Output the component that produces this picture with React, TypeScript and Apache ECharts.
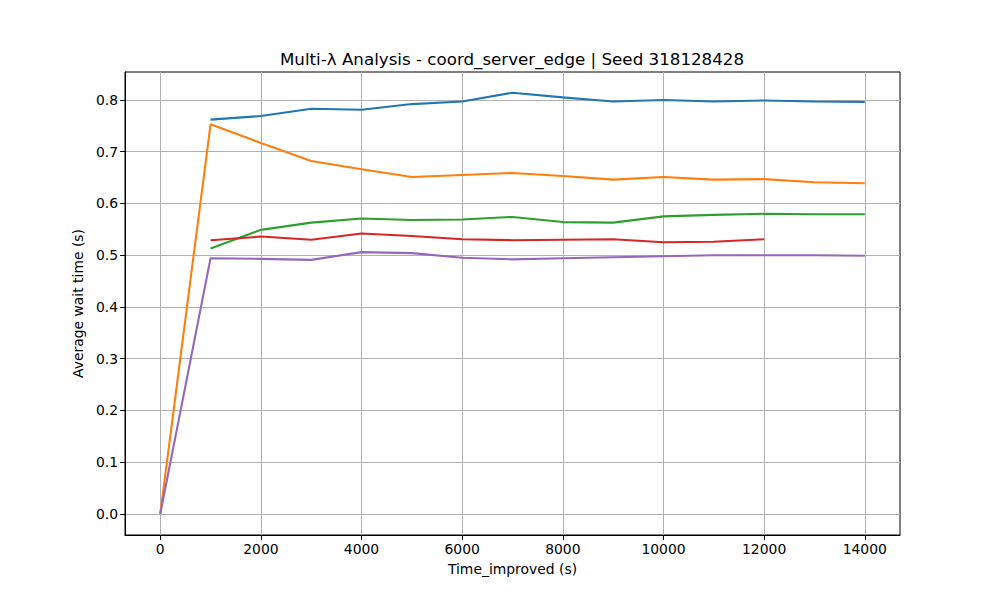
import React, { useEffect, useRef } from "react";
import * as echarts from "echarts";

const titleText = "Multi-λ Analysis - coord_server_edge | Seed 318128428";
const xTicks = [0, 2000, 4000, 6000, 8000, 10000, 12000, 14000];
const yTicks = [0, 0.1, 0.2, 0.3, 0.4, 0.5, 0.6, 0.7, 0.8];

const timesFull = [0, 1000, 2000, 3000, 4000, 5000, 6000, 7000, 8000, 9000, 10000, 11000, 12000, 13000, 14000];
const timesFrom1k = [1000, 2000, 3000, 4000, 5000, 6000, 7000, 8000, 9000, 10000, 11000, 12000, 13000, 14000];
const timesTo12k = [1000, 2000, 3000, 4000, 5000, 6000, 7000, 8000, 9000, 10000, 11000, 12000];

const blueVals = [0.762, 0.769, 0.783, 0.781, 0.792, 0.797, 0.814, 0.805, 0.797, 0.8, 0.797, 0.799, 0.797, 0.796];
const orangeVals = [0.0, 0.753, 0.717, 0.682, 0.666, 0.651, 0.655, 0.659, 0.653, 0.646, 0.651, 0.646, 0.647, 0.641, 0.639];
const greenVals = [0.513, 0.549, 0.563, 0.571, 0.568, 0.569, 0.574, 0.564, 0.563, 0.575, 0.578, 0.58, 0.579, 0.579];
const redVals = [0.529, 0.536, 0.53, 0.542, 0.537, 0.531, 0.529, 0.53, 0.531, 0.525, 0.526, 0.531];
const purpleVals = [0.0, 0.494, 0.493, 0.491, 0.506, 0.504, 0.495, 0.492, 0.494, 0.496, 0.498, 0.5, 0.5, 0.5, 0.499];

const colors = ["#1f77b4", "#ff7f0e", "#2ca02c", "#d62728", "#9467bd"];

const zip = (xs: number[], ys: number[]) => xs.map((x, i) => [x, ys[i]]);

export default function App() {
  const ref = useRef<HTMLDivElement>(null);
  useEffect(() => {
    if (!ref.current) return;
    const chart = echarts.init(ref.current, null, { renderer: "svg" });
    const font = "DejaVu Sans";
    const mk = (data: number[][], color: string) => ({
      type: "line",
      data,
      showSymbol: false,
      symbol: "none",
      lineStyle: { color, width: 2.08 },
      itemStyle: { color },
    });
    chart.setOption({
      animation: false,
      backgroundColor: "#fff",
      textStyle: { fontFamily: font },
      title: {
        text: titleText,
        left: 507,
        top: 45,
        textAlign: "center",
        textStyle: { fontFamily: font, fontSize: 16.7, fontWeight: "normal", color: "#000" },
      },
      grid: {
        left: 125,
        right: 100,
        top: 72,
        bottom: 65,
        show: true,
        borderColor: "#000",
        borderWidth: 1,
        backgroundColor: "transparent",
      },
      xAxis: {
        type: "value",
        min: -700,
        max: 14700,
        name: "Time_improved (s)",
        nameLocation: "middle",
        nameGap: 27,
        nameTextStyle: { fontFamily: font, fontSize: 13.9, color: "#000" },
        axisLine: { show: true, onZero: false, lineStyle: { color: "#000", width: 1 } },
        axisTick: { show: true, inside: false, length: 4.9, customValues: xTicks, lineStyle: { color: "#000", width: 1 } },
        axisLabel: {
          show: true,
          margin: 7,
          customValues: xTicks,
          fontFamily: font,
          fontSize: 13.9,
          color: "#000",
          formatter: (v: number) => String(v),
        },
        splitLine: { show: true, lineStyle: { color: "#b0b0b0", width: 1 } },
      },
      yAxis: {
        type: "value",
        min: -0.0406,
        max: 0.854,
        name: "Average wait time (s)",
        nameLocation: "middle",
        nameGap: 38,
        nameTextStyle: { fontFamily: font, fontSize: 13.9, color: "#000" },
        axisLine: { show: true, onZero: false, lineStyle: { color: "#000", width: 1 } },
        axisTick: { show: true, inside: false, length: 4.9, customValues: yTicks, lineStyle: { color: "#000", width: 1 } },
        axisLabel: {
          show: true,
          margin: 7,
          customValues: yTicks,
          fontFamily: font,
          fontSize: 13.9,
          color: "#000",
          formatter: (v: number) => v.toFixed(1),
        },
        splitLine: { show: true, lineStyle: { color: "#b0b0b0", width: 1 } },
      },
      series: [
        mk(zip(timesFrom1k, blueVals), colors[0]),
        mk(zip(timesFull, orangeVals), colors[1]),
        mk(zip(timesFrom1k, greenVals), colors[2]),
        mk(zip(timesTo12k, redVals), colors[3]),
        mk(zip(timesFull, purpleVals), colors[4]),
      ],
    });
    return () => chart.dispose();
  }, []);
  return (
    <div style={{ position: "fixed", left: 0, top: 0, width: 1000, height: 600, background: "#fff" }}>
      <div ref={ref} style={{ width: 1000, height: 600 }} />
    </div>
  );
}
